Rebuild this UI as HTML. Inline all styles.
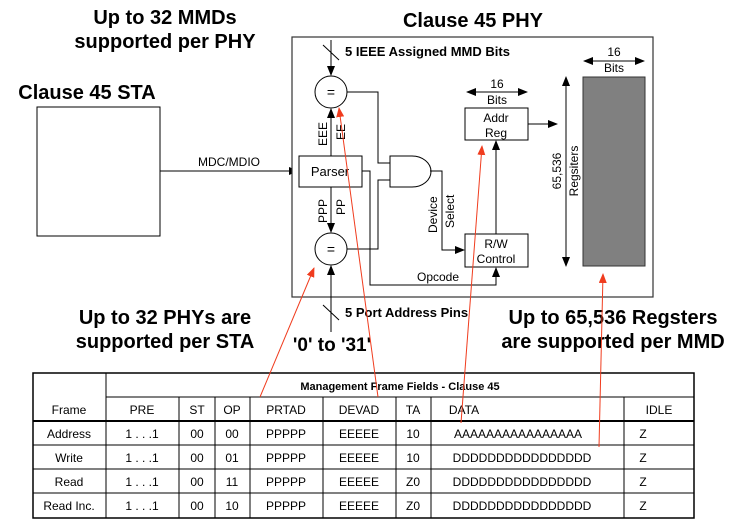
<!DOCTYPE html>
<html><head><meta charset="utf-8"><style>
html,body{margin:0;padding:0;background:#fff}
svg{display:block}
text{font-family:"Liberation Sans",Arial,sans-serif;fill:#000}
.b{font-weight:bold}
</style></head><body>
<svg width="737" height="530" viewBox="0 0 737 530" xmlns="http://www.w3.org/2000/svg">
<defs>
<marker id="a" markerWidth="10" markerHeight="8" refX="9" refY="4" orient="auto" markerUnits="userSpaceOnUse"><path d="M0,0 L10,4 L0,8 z" fill="#000"/></marker>
<marker id="as" markerWidth="10" markerHeight="8" refX="1" refY="4" orient="auto" markerUnits="userSpaceOnUse"><path d="M10,0 L0,4 L10,8 z" fill="#000"/></marker>
<marker id="r" markerWidth="10" markerHeight="8" refX="9" refY="4" orient="auto" markerUnits="userSpaceOnUse"><path d="M0,0 L10,4 L0,8 z" fill="#f03c1e"/></marker>
</defs>
<!-- titles -->
<text class="b" x="165" y="24" font-size="20" text-anchor="middle">Up to 32 MMDs</text>
<text class="b" x="165" y="48" font-size="20" text-anchor="middle">supported per PHY</text>
<text class="b" x="87" y="99" font-size="20" text-anchor="middle">Clause 45 STA</text>
<text class="b" x="473" y="27" font-size="20" text-anchor="middle">Clause 45 PHY</text>
<!-- STA -->
<rect x="37" y="107" width="123" height="129" fill="#fff" stroke="#000" stroke-width="1"/>
<line x1="160" y1="171" x2="298" y2="171" stroke="#000" marker-end="url(#a)"/>
<text x="229" y="166" font-size="12" text-anchor="middle">MDC/MDIO</text>
<!-- PHY box -->
<rect x="292" y="37" width="361" height="260" fill="#fff" stroke="#333" stroke-width="1.2"/>
<text class="b" x="345" y="56" font-size="13">5 IEEE Assigned MMD Bits</text>
<line x1="331" y1="40" x2="331" y2="75" stroke="#000" marker-end="url(#a)"/>
<line x1="323" y1="45" x2="339" y2="60" stroke="#000"/>
<circle cx="331" cy="92" r="16" fill="#fff" stroke="#000"/>
<text x="331" y="97" font-size="14" text-anchor="middle">=</text>
<circle cx="331" cy="249" r="16" fill="#fff" stroke="#000"/>
<text x="331" y="254" font-size="14" text-anchor="middle">=</text>
<rect x="299" y="156" width="63" height="31" fill="#fff" stroke="#000"/>
<text x="330" y="176" font-size="13" text-anchor="middle">Parser</text>
<line x1="331" y1="156" x2="331" y2="109" stroke="#000" marker-end="url(#a)"/>
<line x1="331" y1="187" x2="331" y2="232" stroke="#000" marker-end="url(#a)"/>
<line x1="331" y1="332" x2="331" y2="266" stroke="#000" marker-end="url(#a)"/>
<line x1="323" y1="305" x2="339" y2="320" stroke="#000"/>
<text font-size="12" transform="translate(327,146) rotate(-90)">EEE</text>
<text font-size="12" transform="translate(345,140) rotate(-90)">EE</text>
<text font-size="12" transform="translate(327,223) rotate(-90)">PPP</text>
<text font-size="12" transform="translate(345,215) rotate(-90)">PP</text>
<!-- AND gate -->
<path d="M390,156 L412,156 A19,15.5 0 0 1 412,187 L390,187 Z" fill="#fff" stroke="#000"/>
<polyline points="347,92 378,92 378,163 390,163" fill="none" stroke="#000"/>
<polyline points="347,249 378,249 378,180 390,180" fill="none" stroke="#000"/>
<polyline points="430,171 442,171 442,250 464,250" fill="none" stroke="#000" marker-end="url(#a)"/>
<text font-size="12" transform="translate(437,233) rotate(-90)">Device</text>
<text font-size="12" transform="translate(454,228) rotate(-90)">Select</text>
<polyline points="362,171 370,171 370,285 496,285 496,268" fill="none" stroke="#000" marker-end="url(#a)"/>
<text x="438" y="281" font-size="12" text-anchor="middle">Opcode</text>
<!-- Addr Reg -->
<rect x="465" y="108" width="63" height="32" fill="#fff" stroke="#000"/>
<text x="496" y="122" font-size="12" text-anchor="middle">Addr</text>
<text x="496" y="137" font-size="12" text-anchor="middle">Reg</text>
<line x1="467" y1="92" x2="527" y2="92" stroke="#000" marker-start="url(#as)" marker-end="url(#a)"/>
<text x="497" y="88" font-size="12" text-anchor="middle">16</text>
<text x="497" y="104" font-size="12" text-anchor="middle">Bits</text>
<line x1="528" y1="124" x2="557" y2="124" stroke="#000" marker-end="url(#a)"/>
<line x1="496" y1="234" x2="496" y2="141" stroke="#000" marker-end="url(#a)"/>
<!-- RW -->
<rect x="465" y="234" width="63" height="33" fill="#fff" stroke="#000"/>
<text x="496" y="248" font-size="12" text-anchor="middle">R/W</text>
<text x="496" y="263" font-size="12" text-anchor="middle">Control</text>
<!-- registers -->
<rect x="583" y="77" width="62" height="189" fill="#808080" stroke="#333"/>
<line x1="584" y1="61" x2="644" y2="61" stroke="#000" marker-start="url(#as)" marker-end="url(#a)"/>
<text x="614" y="56" font-size="12" text-anchor="middle">16</text>
<text x="614" y="72" font-size="12" text-anchor="middle">Bits</text>
<line x1="566" y1="77" x2="566" y2="266" stroke="#000" marker-start="url(#as)" marker-end="url(#a)"/>
<text font-size="12" text-anchor="middle" transform="translate(561,171) rotate(-90)">65,536</text>
<text font-size="12" text-anchor="middle" transform="translate(578,171) rotate(-90)">Regsiters</text>
<!-- bottom labels -->
<text class="b" x="345" y="317" font-size="13">5 Port Address Pins</text>
<text class="b" x="332" y="351" font-size="19" text-anchor="middle">'0' to '31'</text>
<text class="b" x="165" y="324" font-size="20" text-anchor="middle">Up to 32 PHYs are</text>
<text class="b" x="165" y="348" font-size="20" text-anchor="middle">supported per STA</text>
<text class="b" x="613" y="324" font-size="20" text-anchor="middle">Up to 65,536 Regsters</text>
<text class="b" x="613" y="348" font-size="20" text-anchor="middle">are supported per MMD</text>
<!-- table -->
<g stroke="#000" fill="none">
<rect x="33" y="373" width="661" height="145" stroke-width="1.5"/>
<line x1="106" y1="397" x2="694" y2="397"/>
<line x1="33" y1="421" x2="694" y2="421" stroke-width="2"/>
<line x1="33" y1="445" x2="694" y2="445"/>
<line x1="33" y1="469" x2="694" y2="469"/>
<line x1="33" y1="493" x2="694" y2="493"/>
<line x1="106" y1="373" x2="106" y2="518"/>
<line x1="179" y1="397" x2="179" y2="518"/>
<line x1="215" y1="397" x2="215" y2="518"/>
<line x1="250" y1="397" x2="250" y2="518"/>
<line x1="323" y1="397" x2="323" y2="518"/>
<line x1="396" y1="397" x2="396" y2="518"/>
<line x1="431" y1="397" x2="431" y2="518"/>
<line x1="624" y1="397" x2="624" y2="518"/>
</g>
<text class="b" x="400" y="390" font-size="11" text-anchor="middle">Management Frame Fields - Clause 45</text>
<g font-size="12" text-anchor="middle">
<text x="69" y="414">Frame</text><text x="142" y="414">PRE</text><text x="197" y="414">ST</text><text x="232" y="414">OP</text><text x="286" y="414">PRTAD</text><text x="359" y="414">DEVAD</text><text x="413" y="414">TA</text><text x="464" y="414">DATA</text><text x="659" y="414">IDLE</text>
<text x="69" y="438">Address</text><text x="142" y="438">1 . . .1</text><text x="197" y="438">00</text><text x="232" y="438">00</text><text x="286" y="438">PPPPP</text><text x="359" y="438">EEEEE</text><text x="413" y="438">10</text><text x="518" y="438">AAAAAAAAAAAAAAAA</text><text x="643" y="438">Z</text>
<text x="69" y="462">Write</text><text x="142" y="462">1 . . .1</text><text x="197" y="462">00</text><text x="232" y="462">01</text><text x="286" y="462">PPPPP</text><text x="359" y="462">EEEEE</text><text x="413" y="462">10</text><text x="522" y="462">DDDDDDDDDDDDDDDD</text><text x="643" y="462">Z</text>
<text x="69" y="486">Read</text><text x="142" y="486">1 . . .1</text><text x="197" y="486">00</text><text x="232" y="486">11</text><text x="286" y="486">PPPPP</text><text x="359" y="486">EEEEE</text><text x="413" y="486">Z0</text><text x="522" y="486">DDDDDDDDDDDDDDDD</text><text x="643" y="486">Z</text>
<text x="69" y="510">Read Inc.</text><text x="142" y="510">1 . . .1</text><text x="197" y="510">00</text><text x="232" y="510">10</text><text x="286" y="510">PPPPP</text><text x="359" y="510">EEEEE</text><text x="413" y="510">Z0</text><text x="522" y="510">DDDDDDDDDDDDDDDD</text><text x="643" y="510">Z</text>
</g>
<!-- red pointers -->
<g stroke="#f03c1e" stroke-width="1" fill="none">
<line x1="260" y1="397" x2="314" y2="268" marker-end="url(#r)"/>
<line x1="378" y1="397" x2="339" y2="108" marker-end="url(#r)"/>
<line x1="461" y1="423" x2="482" y2="146" marker-end="url(#r)"/>
<line x1="599" y1="447" x2="603" y2="274" marker-end="url(#r)"/>
</g>
</svg>
</body></html>
